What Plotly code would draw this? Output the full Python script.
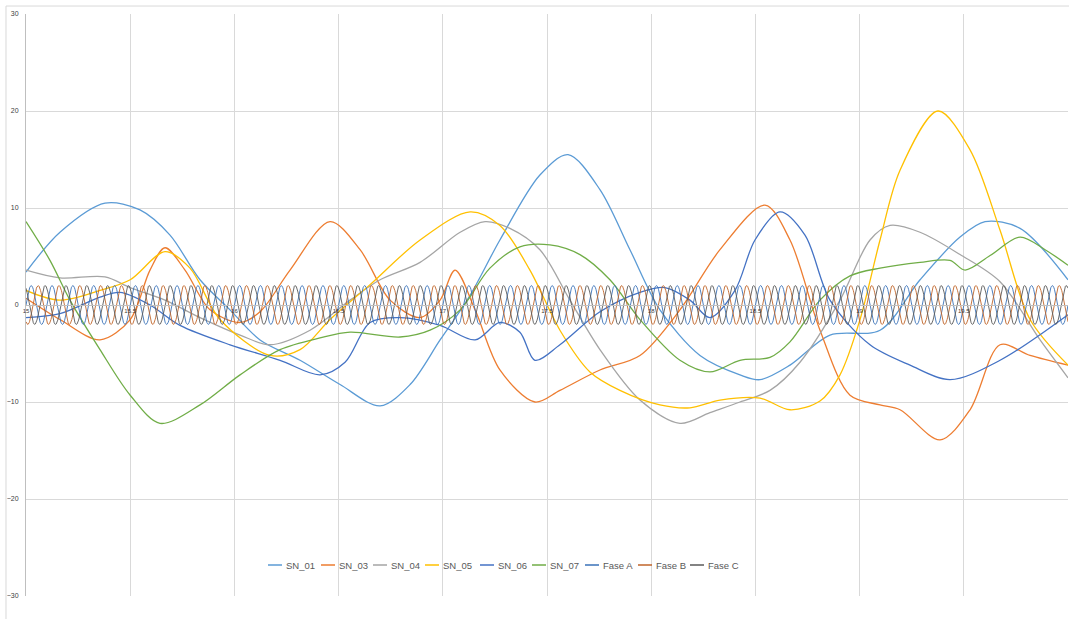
import numpy as np
import plotly.graph_objects as go

# Sensor traces: control points (time, value), drawn as smoothed lines
sn01_x = [15.0, 15.163, 15.379, 15.547, 15.691, 15.835, 15.979, 16.123, 16.315, 16.507, 16.699, 16.843, 16.987, 17.131, 17.274, 17.466, 17.601, 17.754, 17.898, 18.042, 18.234, 18.426, 18.522, 18.666, 18.858, 19.098, 19.290, 19.482, 19.602, 19.770, 20.0]
sn01_y = [3.4, 7.5, 10.5, 9.8, 7.2, 2.6, -0.5, -3.6, -5.7, -8.2, -10.4, -8.2, -3.6, 1.0, 6.7, 13.4, 15.5, 11.9, 5.7, -0.5, -5.2, -7.2, -7.7, -6.2, -3.1, -2.6, 2.6, 7.0, 8.6, 7.9, 2.6]

sn03_x = [15.0, 15.163, 15.355, 15.5, 15.595, 15.667, 15.763, 15.883, 16.027, 16.123, 16.267, 16.459, 16.603, 16.747, 16.891, 16.987, 17.059, 17.155, 17.274, 17.442, 17.562, 17.754, 17.946, 18.138, 18.330, 18.546, 18.666, 18.810, 18.954, 19.098, 19.194, 19.386, 19.530, 19.674, 19.818, 20.0]
sn03_y = [0.7, -1.5, -3.6, -1.5, 3.6, 5.9, 3.6, -0.5, -1.8, -0.7, 3.6, 8.6, 5.7, 0.5, -1.3, 0.5, 3.6, -0.5, -6.7, -10.0, -8.8, -6.7, -5.2, -0.5, 5.7, 10.3, 6.7, -2.6, -9.3, -10.3, -10.8, -13.9, -10.8, -4.1, -5.2, -6.2]

sn04_x = [15.0, 15.163, 15.379, 15.5, 15.667, 15.835, 16.027, 16.171, 16.363, 16.555, 16.699, 16.891, 17.083, 17.203, 17.322, 17.466, 17.610, 17.754, 17.946, 18.138, 18.282, 18.426, 18.570, 18.714, 18.906, 19.050, 19.146, 19.290, 19.482, 19.674, 19.866, 20.0]
sn04_y = [3.6, 2.8, 2.9, 1.8, 0.5, -1.3, -3.1, -4.1, -2.6, 0.5, 2.6, 4.4, 7.5, 8.6, 7.9, 5.7, 0.5, -4.6, -9.8, -12.2, -11.1, -10.0, -8.8, -5.9, 0.5, 6.7, 8.2, 7.5, 5.2, 2.4, -3.6, -7.5]

sn05_x = [15.0, 15.163, 15.355, 15.5, 15.667, 15.787, 15.931, 16.171, 16.315, 16.459, 16.651, 16.891, 17.131, 17.274, 17.418, 17.562, 17.706, 17.850, 18.042, 18.186, 18.330, 18.522, 18.666, 18.810, 18.906, 19.002, 19.098, 19.194, 19.376, 19.530, 19.674, 19.818, 20.0]
sn05_y = [1.5, 0.5, 1.5, 2.6, 5.5, 3.8, -1.5, -5.2, -4.6, -1.5, 2.1, 6.7, 9.6, 8.2, 3.6, -2.6, -6.9, -8.8, -10.3, -10.6, -9.8, -9.6, -10.8, -9.9, -7.2, -1.5, 6.7, 13.9, 20.0, 16.0, 7.7, -1.5, -6.2]

sn06_x = [15.0, 15.163, 15.355, 15.451, 15.595, 15.739, 15.979, 16.219, 16.411, 16.531, 16.651, 16.795, 16.987, 17.155, 17.274, 17.370, 17.442, 17.562, 17.754, 17.946, 18.066, 18.186, 18.282, 18.402, 18.498, 18.618, 18.738, 18.858, 19.050, 19.242, 19.434, 19.674, 20.0]
sn06_y = [-1.3, -0.9, 0.8, 1.3, 0.0, -2.1, -4.1, -5.7, -7.2, -5.9, -1.8, -1.3, -2.1, -3.6, -1.8, -2.8, -5.7, -4.1, -0.7, 1.3, 1.8, 0.5, -1.3, 1.5, 6.7, 9.6, 7.2, 0.5, -4.1, -6.2, -7.7, -5.7, -1.0]

sn07_x = [15.0, 15.115, 15.211, 15.355, 15.5, 15.643, 15.835, 16.027, 16.219, 16.411, 16.555, 16.795, 16.939, 17.083, 17.226, 17.370, 17.514, 17.658, 17.802, 17.946, 18.138, 18.282, 18.426, 18.570, 18.666, 18.810, 18.954, 19.098, 19.290, 19.434, 19.506, 19.626, 19.770, 19.890, 20.0]
sn07_y = [8.6, 4.6, 0.5, -4.6, -9.3, -12.2, -10.3, -7.2, -4.6, -3.4, -2.8, -3.3, -2.6, -0.5, 3.8, 6.0, 6.2, 5.2, 2.6, -1.5, -5.7, -6.9, -5.7, -5.4, -3.8, 0.5, 3.0, 3.8, 4.4, 4.6, 3.6, 5.1, 7.0, 5.7, 4.1]

# Three-phase reference waves: amplitude, frequency (cycles per unit of x), phase offsets
phase_names = ["Fase A", "Fase B", "Fase C"]
phase_amplitude = 2.0
phase_frequency = 10.0
phase_offsets_deg = [0.0, -120.0, 120.0]

x_ticks = [15, 15.5, 16, 16.5, 17, 17.5, 18, 18.5, 19, 19.5, 20]

sensor_series = [
    ("SN_01", sn01_x, sn01_y, "#5B9BD5"),
    ("SN_03", sn03_x, sn03_y, "#ED7D31"),
    ("SN_04", sn04_x, sn04_y, "#A5A5A5"),
    ("SN_05", sn05_x, sn05_y, "#FFC000"),
    ("SN_06", sn06_x, sn06_y, "#4472C4"),
    ("SN_07", sn07_x, sn07_y, "#70AD47"),
]
phase_colors = ["#3A72B8", "#C0652A", "#5A5A5A"]

fig = go.Figure()

for name, xs, ys, color in sensor_series:
    fig.add_trace(go.Scatter(
        x=xs, y=ys, name=name, mode="lines", showlegend=False,
        line=dict(color=color, width=1.3, shape="spline", smoothing=0.9),
    ))

t = np.linspace(15, 20, 2001)
for name, off, color in zip(phase_names, phase_offsets_deg, phase_colors):
    wave = phase_amplitude * np.sin(2 * np.pi * phase_frequency * (t - 15) + np.deg2rad(off))
    fig.add_trace(go.Scatter(
        x=t, y=wave, name=name, mode="lines", showlegend=False,
        line=dict(color=color, width=0.9),
    ))

# Compact legend row under the plot: short line sample followed by the series name
PLOT_LEFT, PLOT_W, PLOT_BOTTOM, PLOT_H = 26, 1042, 596, 582
legend_names = [s[0] for s in sensor_series] + phase_names
legend_colors = [s[3] for s in sensor_series] + phase_colors
legend_start_px = [268, 321, 373, 425, 480, 532, 585, 638, 690]
legend_row_py = 565
ly = (PLOT_BOTTOM - legend_row_py) / PLOT_H
for name, color, px in zip(legend_names, legend_colors, legend_start_px):
    x0 = (px - PLOT_LEFT) / PLOT_W
    x1 = (px + 14 - PLOT_LEFT) / PLOT_W
    fig.add_shape(type="line", xref="paper", yref="paper", x0=x0, x1=x1, y0=ly, y1=ly,
                  line=dict(color=color, width=1.5))
    fig.add_annotation(xref="paper", yref="paper", x=(px + 16 - PLOT_LEFT) / PLOT_W, y=ly,
                       text=name, showarrow=False, xanchor="left", yanchor="middle",
                       font=dict(size=9.5, color="#595959"))

fig.update_layout(
    width=1069, height=619,
    margin=dict(l=26, r=1, t=14, b=23),
    paper_bgcolor="white", plot_bgcolor="white",
    font=dict(family="Liberation Sans, Arial, sans-serif", color="#595959"),
    showlegend=False,
    xaxis=dict(
        range=[15, 20], tickvals=x_ticks, ticktext=[f"{v:g}" for v in x_ticks],
        showgrid=True, gridcolor="#d9d9d9", gridwidth=1,
        anchor="free", position=0.5, showline=True, linecolor="#bfbfbf", linewidth=1,
        ticks="", tickfont=dict(size=6, color="#404040"), zeroline=False,
    ),
    yaxis=dict(
        range=[-30, 30], dtick=10, showgrid=True, gridcolor="#d9d9d9", gridwidth=1,
        zeroline=False, showline=True, linecolor="#bfbfbf", ticks="",
        tickfont=dict(size=7, color="#404040"), ticklabelstandoff=5,
    ),
)

# outer chart border (left and top edges)
fig.add_shape(type="line", xref="paper", yref="paper", x0=-0.0192, x1=-0.0192, y0=1.0137, y1=-0.05,
              line=dict(color="#d9d9d9", width=1))
fig.add_shape(type="line", xref="paper", yref="paper", x0=-0.0192, x1=1.01, y0=1.0137, y1=1.0137,
              line=dict(color="#d9d9d9", width=1))

fig.write_html("out.html")
